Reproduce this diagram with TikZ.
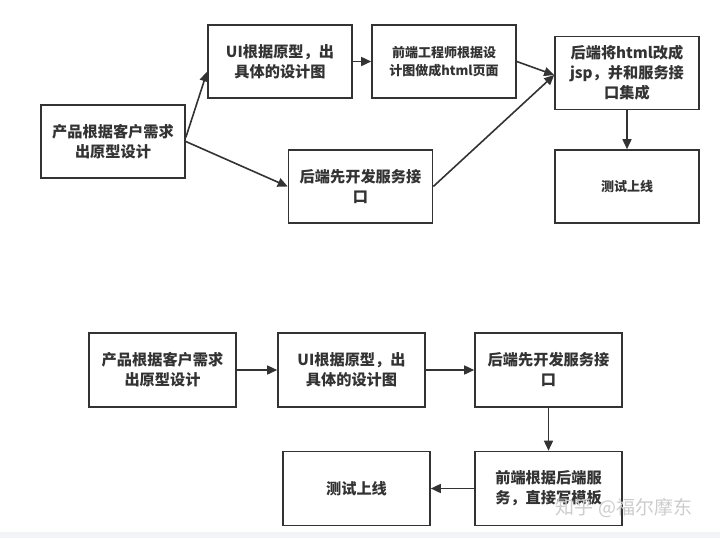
\documentclass[tikz,border=0pt]{standalone}
\usepackage{fontspec}
\newfontfamily\cjk{Noto Sans CJK SC}
\usetikzlibrary{arrows.meta}
\definecolor{ink}{HTML}{333333}
\definecolor{band}{HTML}{F3F4F8}
\begin{document}
\begin{tikzpicture}[
  x=1pt, y=-1pt,
  box/.style={draw=ink, line width=1.6pt, minimum width=144pt, minimum height=73pt, inner sep=0pt,
    align=center, text=ink, font=\cjk\bfseries\fontsize{15.2}{20}\selectfont},
  wide/.style={box, minimum width=147pt, minimum height=74pt},
  small/.style={font=\cjk\bfseries\fontsize{13}{18}\selectfont},
  arr/.style={-{Triangle[length=10pt, width=9pt]}, line width=1.6pt, draw=ink}
]
\useasboundingbox (0,0) rectangle (720,538);
\fill[band] (0,532) rectangle (720,538);
% top flow
\node[box] (prod)    at (113,141.5) {产品根据客户需求\\出原型设计};
\node[box] (ui)      at (280,61.5)  {UI根据原型，出\\具体的设计图};
\node[box, small] (front) at (444,61.5) {前端工程师根据设\\计图做成html页面};
\node[box] (merge)   at (627,73)    {后端将html改成\\jsp，并和服务接\\口集成};
\node[box, small] (test) at (627,186.5) {测试上线};
\node[box] (back)    at (360.5,186.5) {后端先开发服务接\\口};
\draw[arr] ([yshift=4pt]prod.east) -- ([yshift=-10pt]ui.west);
\draw[arr] (prod.east) -- (back.west);
\draw[arr] (ui.east) -- (front.west);
\draw[arr] (front.east) -- ([yshift=-2pt]merge.west);
\draw[arr] (back.east) -- ([yshift=-2pt]merge.west);
\draw[arr] (merge.south) -- (test.north);
% bottom flow
\node[wide] (prod2)  at (162.5,370) {产品根据客户需求\\出原型设计};
\node[wide] (ui2)    at (351.5,370) {UI根据原型，出\\具体的设计图};
\node[wide] (back2)  at (548.5,370) {后端先开发服务接\\口};
\node[wide] (front2) at (548.5,488.5) {前端根据后端服\\务，直接写模板};
\node[wide] (test2)  at (356.5,488.5) {测试上线};
\draw[arr] (prod2.east) -- (ui2.west);
\draw[arr] (ui2.east) -- (back2.west);
\draw[arr] (back2.south) -- (front2.north);
\draw[arr] (front2.west) -- (test2.east);
\node[text=gray!40, font=\cjk\fontsize{19}{20}\selectfont] (mark) at (624,508) {知乎 @福尔摩东};
\end{tikzpicture}
\end{document}
